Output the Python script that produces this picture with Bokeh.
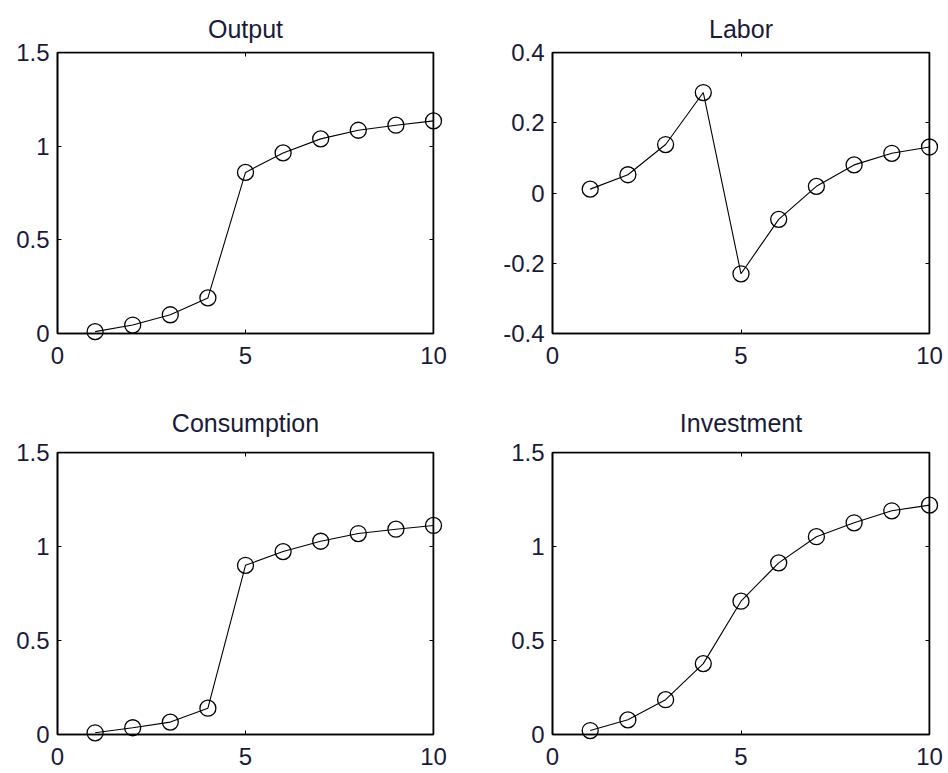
from bokeh.plotting import figure
from bokeh.layouts import column, row
from bokeh.models import Range1d, FixedTicker, LinearAxis, CustomLabelingPolicy
from bokeh.embed import file_html
from bokeh.resources import INLINE

periods = [1, 2, 3, 4, 5, 6, 7, 8, 9, 10]
output = [0.010, 0.045, 0.100, 0.190, 0.860, 0.964, 1.039, 1.085, 1.112, 1.135]
labor = [0.011, 0.052, 0.138, 0.286, -0.230, -0.075, 0.019, 0.080, 0.113, 0.131]
consumption = [0.009, 0.036, 0.066, 0.140, 0.900, 0.973, 1.028, 1.069, 1.092, 1.112]
investment = [0.021, 0.078, 0.185, 0.377, 0.709, 0.913, 1.052, 1.126, 1.190, 1.220]

titles = ["Output", "Labor", "Consumption", "Investment"]
x_ticks = [0, 5, 10]
x_tick_labels = ["0", "5", "10"]
y_ticks_pos = [0, 0.5, 1, 1.5]
y_tick_labels_pos = ["0", "0.5", "1", "1.5"]
y_ticks_labor = [-0.4, -0.2, 0, 0.2, 0.4]
y_tick_labels_labor = ["-0.4", "-0.2", "0", "0.2", "0.4"]

FONT = "Liberation Sans"
TXT = "#1a1a3a"

HIDE = """
const out = indices.clone ? indices.clone() : indices;
for (const i of Array.from(indices)) { out.unset(i) }
return out
"""


def make(title, ys, yticks, ylabels, ymin, ymax, w, h, bl, br, bt, bb, standoff):
    xmin, xmax = x_ticks[0], x_ticks[-1]
    p = figure(width=w, height=h, output_backend="svg", toolbar_location=None,
               x_range=Range1d(xmin, xmax), y_range=Range1d(ymin, ymax),
               min_border_left=bl, min_border_right=br,
               min_border_top=bt, min_border_bottom=bb,
               x_axis_location=None, y_axis_location=None)
    p.title.text = title
    p.title.align = "center"
    p.title.text_font = FONT
    p.title.text_font_size = "25px"
    p.title.text_font_style = "normal"
    p.title.text_color = TXT
    p.title.standoff = standoff
    p.grid.visible = False
    p.outline_line_color = "black"
    p.outline_line_width = 1.6
    p.background_fill_color = "white"
    p.border_fill_color = "white"

    xt = FixedTicker(ticks=x_ticks)
    yt = FixedTicker(ticks=yticks)
    xa = LinearAxis(ticker=xt, major_label_overrides=dict(zip(x_ticks, x_tick_labels)))
    ya = LinearAxis(ticker=yt, major_label_overrides=dict(zip(yticks, ylabels)))
    xa2 = LinearAxis(ticker=xt, fixed_location=ymax)
    ya2 = LinearAxis(ticker=yt, fixed_location=xmax)
    for a in (xa, ya, xa2, ya2):
        a.major_tick_in = 4
        a.major_tick_out = 0
        a.minor_tick_in = 0
        a.minor_tick_out = 0
        a.axis_line_color = "black"
        a.axis_line_width = 1.6
        a.major_tick_line_color = "black"
        a.major_label_text_font = FONT
        a.major_label_text_font_size = "24px"
        a.major_label_text_color = TXT
    xa.major_label_standoff = 13
    ya.major_label_standoff = 8
    for a in (xa2, ya2):
        a.major_label_policy = CustomLabelingPolicy(code=HIDE)
        a.major_label_standoff = 0
    p.add_layout(xa, "below")
    p.add_layout(ya, "left")
    p.add_layout(xa2, "above")
    p.add_layout(ya2, "right")

    p.line(periods, ys, line_color="black", line_width=1.1)
    r = p.scatter(periods, ys, marker="circle", size=16, fill_color=None,
                  line_color="black", line_width=1.3)
    r.level = "overlay"
    return p


p1 = make(titles[0], output, y_ticks_pos, y_tick_labels_pos, 0, 1.5, 474, 386, 57, 41, 52, 53, 20)
p2 = make(titles[1], labor, y_ticks_labor, y_tick_labels_labor, -0.4, 0.4, 474, 386, 78, 19, 52, 53, 20)
p3 = make(titles[2], consumption, y_ticks_pos, y_tick_labels_pos, 0, 1.5, 474, 387, 57, 41, 66, 39, 31)
p4 = make(titles[3], investment, y_ticks_pos, y_tick_labels_pos, 0, 1.5, 474, 387, 78, 19, 66, 39, 31)

layout = column(row(p1, p2), row(p3, p4))
open("out.html", "w").write(file_html(layout, INLINE))
